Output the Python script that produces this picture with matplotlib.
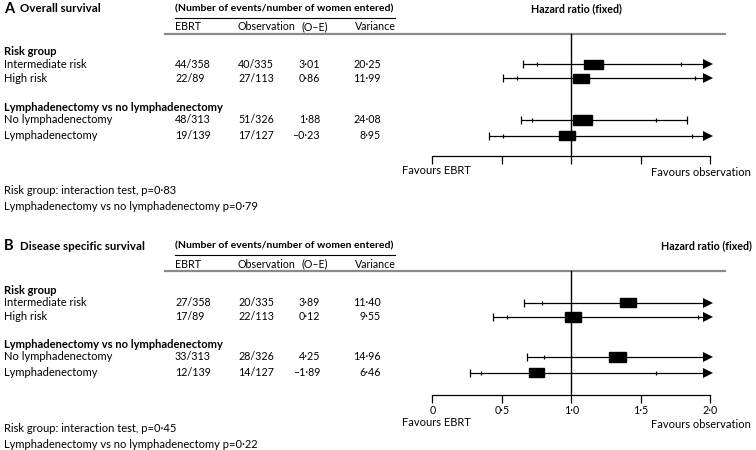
import matplotlib.pyplot as plt
from matplotlib.patches import Rectangle

plt.rcParams['font.family'] = ['Lato', 'DejaVu Sans']

# --- data ---
row_labels = ["Intermediate risk", "High risk", "No lymphadenectomy", "Lymphadenectomy"]
group_labels = ["Risk group", "Lymphadenectomy vs no lymphadenectomy"]

a_ebrt = ["44/358", "22/89", "48/313", "19/139"]
a_obs = ["40/335", "27/113", "51/326", "17/127"]
a_oe = ["3·01", "0·86", "1·88", "\u20130·23"]
a_var = ["20·25", "11·99", "24·08", "8·95"]
a_hr = [1.16, 1.07, 1.08, 0.97]
a_lo95 = [0.75, 0.61, 0.72, 0.51]
a_hi95 = [1.79, 1.89, 1.61, 1.87]
a_lo99 = [0.65, 0.51, 0.64, 0.41]
a_hi99 = [2.06, 2.26, 1.83, 2.30]
a_pvals = ["Risk group: interaction test, p=0·83",
           "Lymphadenectomy vs no lymphadenectomy p=0·79"]

b_ebrt = ["27/358", "17/89", "33/313", "12/139"]
b_obs = ["20/335", "22/113", "28/326", "14/127"]
b_oe = ["3·89", "0·12", "4·25", "\u20131·89"]
b_var = ["11·40", "9·55", "14·96", "6·46"]
b_hr = [1.41, 1.01, 1.33, 0.75]
b_lo95 = [0.79, 0.54, 0.80, 0.35]
b_hi95 = [2.51, 1.91, 2.20, 1.61]
b_lo99 = [0.66, 0.44, 0.68, 0.27]
b_hi99 = [3.02, 2.33, 2.59, 2.06]
b_pvals = ["Risk group: interaction test, p=0·45",
           "Lymphadenectomy vs no lymphadenectomy p=0·22"]

tick_vals = [0, 0.5, 1.0, 1.5, 2.0]
tick_text = ["0", "0·5", "1·0", "1·5", "2·0"]

W, H = 756, 450
fig = plt.figure(figsize=(W / 100, H / 100), dpi=100)
bg = fig.add_axes([0, 0, 1, 1])
bg.set_xlim(0, W)
bg.set_ylim(H, 0)
bg.axis('off')

FS = 8.0       # regular text
FS_COL = 7.7   # column headers / numbers
FS_B = 8.0     # bold group headings
FS_H = 7.5     # bold column header
PX_PER_UNIT = 139.0
X0 = 432.3  # pixel of HR = 0


def draw_panel(top, letter, title, ebrt, obs, oe, var, hr, lo95, hi95, lo99, hi99,
               pvals, hr_title_x, hr_title_ha, show_ticks, rows_y, axis_y, fav_y, p_y):
    # headers
    bg.text(4, top + 9, letter, fontsize=10.5, fontweight='bold', va='center')
    bg.text(20, top + 9, title, fontsize=8.3, fontweight='bold', va='center')
    bg.text(175, top + 9, "(Number of events/number of women entered)", fontsize=FS_H,
            fontweight='bold', va='center')
    bg.plot([175, 395], [top + 17.5, top + 17.5], color='k', lw=0.8)
    bg.text(hr_title_x, top + 9, "Hazard ratio (fixed)", fontsize=FS_H + 0.2, fontweight='bold',
            va='center', ha=hr_title_ha)
    bg.text(175, top + 27, "EBRT", fontsize=FS_COL, va='center')
    bg.text(238, top + 27, "Observation", fontsize=FS_COL, va='center')
    bg.text(301, top + 27, "(O\u2013E)", fontsize=FS_COL, va='center')
    bg.text(355, top + 27, "Variance", fontsize=FS_COL, va='center')
    bg.plot([165, 725], [top + 34, top + 34], color='#8a8a8a', lw=1.6)

    # group headings
    bg.text(4, rows_y[0] - 12.5, group_labels[0], fontsize=FS_B, fontweight='bold', va='center')
    bg.text(4, rows_y[2] - 12.5, group_labels[1], fontsize=FS_B, fontweight='bold', va='center')

    for i, y in enumerate(rows_y):
        bg.text(4, y, row_labels[i], fontsize=FS, va='center')
        bg.text(175, y, ebrt[i], fontsize=FS_COL, va='center')
        bg.text(238, y, obs[i], fontsize=FS_COL, va='center')
        bg.text(320, y, oe[i], fontsize=FS_COL, va='center', ha='right')
        bg.text(381, y, var[i], fontsize=FS_COL, va='center', ha='right')

    # forest plot axes, y in page pixels
    x_left, x_right = 400, 740
    y_top, y_bot = top + 30, axis_y + 30
    ax = fig.add_axes([x_left / W, 1 - y_bot / H, (x_right - x_left) / W, (y_bot - y_top) / H])
    ax.set_xlim((x_left - X0) / PX_PER_UNIT, (x_right - X0) / PX_PER_UNIT)
    ax.set_ylim(y_bot, y_top)
    ax.patch.set_alpha(0)
    for s in ['top', 'left', 'right']:
        ax.spines[s].set_visible(False)
    ax.spines['bottom'].set_position(('data', axis_y))
    ax.spines['bottom'].set_bounds(0, 2)
    ax.spines['bottom'].set_linewidth(0.9)
    ax.set_yticks([])
    ax.set_xticks(tick_vals)
    ax.tick_params(axis='x', direction='out', length=5.5, width=0.9, pad=1.5,
                   labelsize=FS_COL, labelbottom=show_ticks)
    if show_ticks:
        ax.set_xticklabels(tick_text)

    ax.plot([1, 1], [top + 34, axis_y], color='k', lw=1)

    for i, y in enumerate(rows_y):
        right = min(hi99[i], 1.97)
        ax.plot([lo99[i], right], [y, y], color='k', lw=0.9, solid_capstyle='butt')
        ax.plot([lo99[i]], [y], marker='|', ms=6, mew=0.9, color='k')
        if hi99[i] > 2:
            ax.plot([1.98], [y], marker='>', ms=7, color='k', mew=0)
        else:
            ax.plot([hi99[i]], [y], marker='|', ms=6, mew=0.9, color='k')
        for v in (lo95[i], hi95[i]):
            if v < 2:
                ax.plot([v], [y], marker='|', ms=3, mew=0.9, color='k')
        v = float(var[i].replace('·', '.'))
        w = (11 + 1.6 * v ** 0.5) / PX_PER_UNIT
        h = 9.5
        ax.add_patch(Rectangle((hr[i] - w / 2, y - h / 2), w, h, color='k', zorder=3))

    bg.text(402, fav_y, "Favours EBRT", fontsize=FS, va='center')
    bg.text(751, fav_y + 2, "Favours observation", fontsize=FS, va='center', ha='right')

    bg.text(4, p_y, pvals[0], fontsize=FS, va='center')
    bg.text(4, p_y + 16, pvals[1], fontsize=FS, va='center')


draw_panel(0, "A", "Overall survival", a_ebrt, a_obs, a_oe, a_var, a_hr, a_lo95, a_hi95,
           a_lo99, a_hi99, a_pvals, 576, 'center', False,
           [64.3, 78.3, 119.8, 135.5], 156, 170, 190)
draw_panel(237, "B", "Disease specific survival", b_ebrt, b_obs, b_oe, b_var, b_hr, b_lo95,
           b_hi95, b_lo99, b_hi99, b_pvals, 752, 'right', True,
           [302.5, 316.8, 357.0, 372.5], 395, 423, 428)

fig.savefig("out.png", dpi=100)
